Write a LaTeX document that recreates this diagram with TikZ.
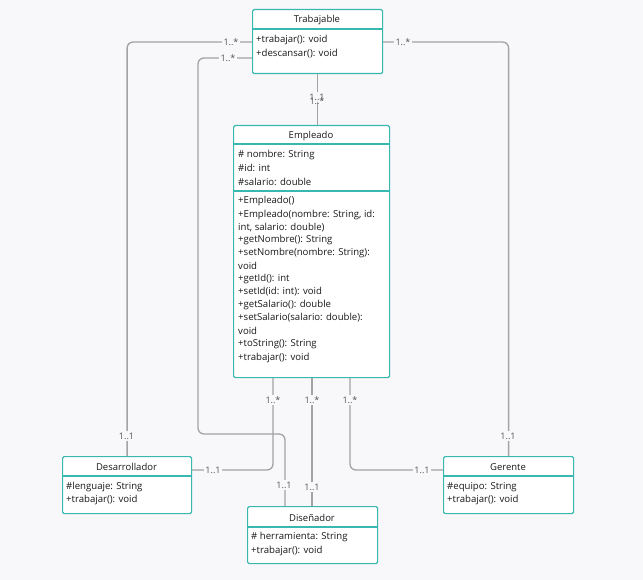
\documentclass[tikz,border=0pt]{standalone}
\usepackage{fontspec}
\setmainfont{Open Sans}
\usetikzlibrary{calc}
\definecolor{bg}{HTML}{F8F8FB}
\definecolor{teal}{HTML}{38B8B0}
\definecolor{cgray}{HTML}{A3A3A3}
\definecolor{lgray}{HTML}{555555}
\begin{document}
\begin{tikzpicture}[x=1pt,y=-1pt,
  classbox/.style={draw=teal,line width=1.2pt,fill=white,rounded corners=1.5pt,anchor=north west,inner sep=0pt},
  sep/.style={draw=teal,line width=1.2pt},
  title/.style={font=\fontsize{9.5}{11}\selectfont,text=black!90,inner sep=0pt},
  item/.style={font=\fontsize{9.6}{11}\selectfont,text=black!90,anchor=west,inner sep=0pt},
  conn/.style={draw=cgray,line width=1.3pt,rounded corners=6pt},
  mult/.style={font=\fontsize{9}{10}\selectfont,text=lgray,fill=bg,inner sep=1.5pt}]
\fill[bg] (0,0) rectangle (643,580);
\useasboundingbox (0,0) rectangle (643,580);

% Trabajable
\node[classbox,minimum width=130pt,minimum height=64pt] (trab) at (252,9) {};
\draw[sep] (252,29) -- (382,29);
\node[title] (trabt) at (317,20) {Trabajable};
\node[item] (trab1) at (256,40) {+trabajar(): void};
\node[item] (trab2) at (256,54) {+descansar(): void};

% Empleado
\node[classbox,minimum width=156pt,minimum height=252pt] (emp) at (233,125) {};
\draw[sep] (233,144) -- (389,144);
\draw[sep] (233,191) -- (389,191);
\node[title] (empt) at (311,136) {Empleado};
\node[item] (ea1) at (238,155) {\# nombre: String};
\node[item] (ea2) at (238,168) {\#id: int};
\node[item] (ea3) at (238,182) {\#salario: double};
\node[item] (em1) at (238,201) {+Empleado()};
\node[item] (em2) at (238,215) {+Empleado(nombre: String, id:};
\node[item] (em3) at (238,228) {int, salario: double)};
\node[item] (em4) at (238,240) {+getNombre(): String};
\node[item] (em5) at (238,253) {+setNombre(nombre: String):};
\node[item] (em6) at (238,266) {void};
\node[item] (em7) at (238,279) {+getId(): int};
\node[item] (em8) at (238,292) {+setId(id: int): void};
\node[item] (em9) at (238,305) {+getSalario(): double};
\node[item] (em10) at (238,318) {+setSalario(salario: double):};
\node[item] (em11) at (238,331) {void};
\node[item] (em12) at (238,344) {+toString(): String};
\node[item] (em13) at (238,358) {+trabajar(): void};

% Desarrollador
\node[classbox,minimum width=129pt,minimum height=57pt] (desa) at (62,456) {};
\draw[sep] (62,476) -- (191,476);
\node[title] (desat) at (126.5,467) {Desarrollador};
\node[item] (desa1) at (66,487) {\#lenguaje: String};
\node[item] (desa2) at (66,500) {+trabajar(): void};

% Diseñador
\node[classbox,minimum width=130pt,minimum height=57pt] (disen) at (247,506) {};
\draw[sep] (247,527) -- (377,527);
\node[title] (disent) at (312,518) {Diseñador};
\node[item] (disen1) at (251,537) {\# herramienta: String};
\node[item] (disen2) at (251,551) {+trabajar(): void};

% Gerente
\node[classbox,minimum width=130pt,minimum height=57pt] (ger) at (443,456) {};
\draw[sep] (443,476) -- (573,476);
\node[title] (gert) at (508,467) {Gerente};
\node[item] (ger1) at (447,487) {\#equipo: String};
\node[item] (ger2) at (447,500) {+trabajar(): void};

% connectors
\coordinate (tw1) at ($(trab.north west)+(0,33)$);
\coordinate (tw2) at ($(trab.north west)+(0,49)$);
\coordinate (te1) at ($(trab.north east)+(0,33)$);
\coordinate (e1) at ($(emp.south west)+(40,0)$);
\coordinate (e2) at ($(emp.south west)+(79,0)$);
\coordinate (e3) at ($(emp.south west)+(117,0)$);
\coordinate (dsr) at ($(desa.north east)+(0,14)$);
\coordinate (gl) at ($(ger.north west)+(0,14)$);
\coordinate (dn1) at ($(disen.north west)+(38,0)$);
\coordinate (w2) at (198,434);

\draw[conn] (tw1) -| (desa.north);
\draw[conn] (tw2) -| (w2) -| (dn1);
\draw[conn] (te1) -| (ger.north);
\draw[conn] (e1) |- (dsr);
\draw[conn] (e2) -- (e2 |- disen.north);
\draw[conn] (e3) |- (gl);
\draw[conn] (trab.south) -- (trab.south |- emp.north);

% multiplicities
\node[mult] (m1a) at (231,42) {1..*};
\node[mult] (m1b) at (126.5,436) {1..1};
\node[mult] (m2a) at (228,58) {1..*};
\node[mult] (m2b) at (284,485) {1..1};
\node[mult] (m6a) at (403,42) {1..*};
\node[mult] (m6b) at (508,436) {1..1};
\node[mult] (m3a) at (273,400) {1..*};
\node[mult] (m3b) at (213,470) {1..1};
\node[mult] (m4a) at (312,400) {1..*};
\node[mult] (m4b) at (312,487) {1..1};
\node[mult] (m5a) at (350,400) {1..*};
\node[mult] (m5b) at (422,470) {1..1};
\node[mult] (m7a) at (317,97) {1..1};
\node[mult,fill=none] (m7b) at (317,101) {1..*};
\end{tikzpicture}
\end{document}
